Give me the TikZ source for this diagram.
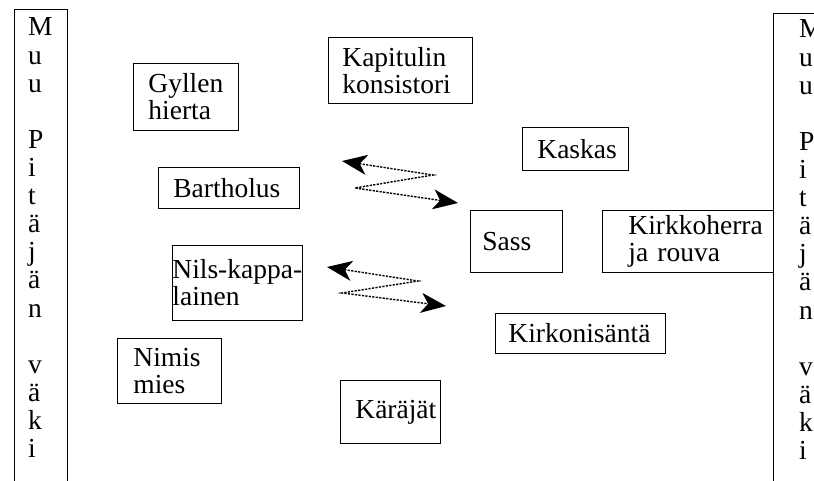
\documentclass[tikz,border=0pt]{standalone}
\usepackage{fontspec}
\setmainfont{Liberation Serif}
\usetikzlibrary{arrows.meta}
\hyphenpenalty=10000
\exhyphenpenalty=10000
\newcommand{\bigfnt}{\fontsize{27.5}{27}\selectfont}
\begin{document}
\begin{tikzpicture}[x=1pt,y=-1pt,
  txt/.style={font=\bigfnt},
  box/.style={txt, draw, line width=0.8pt, anchor=north west, inner ysep=0pt, align=left},
  bar/.style={draw, line width=0.8pt, anchor=north west, inner sep=0pt},
  col/.style={txt, anchor=base west, inner sep=0pt},
  zig/.style={line width=1.4pt, dash pattern=on 2.2pt off 1.3pt, {Stealth[length=25pt,width=20pt,inset=7pt]}-{Stealth[length=25pt,width=20pt,inset=7pt]}}
]
\useasboundingbox[fill=white] (0,0) rectangle (814,481);

% side bars
\node[bar, minimum width=53pt, minimum height=520pt] (leftbar) at (14,9) {};
\node[bar, minimum width=80pt, minimum height=520pt] (rightbar) at (773,13) {};
\foreach \ch [count=\i] in {M,u,u,{},P,i,t,ä,j,ä,n,{},v,ä,k,i} {
  \node[col] (L\i) at (28,36+\i*28.1-28.1) {\ch};
  \node[col] (R\i) at (799,38+\i*28.1-28.1) {\ch};
}

% boxes
\node[box, minimum width=105pt, minimum height=67pt, inner xsep=15pt, text width=75pt] (gyl) at (133,63) {Gyllen\\hierta};
\node[box, minimum width=144pt, minimum height=66pt, inner xsep=14pt, text width=116pt] (kap) at (328,37) {Kapitulin\\konsistori};
\node[box, minimum width=106pt, minimum height=43pt, inner xsep=15pt, text width=76pt] (kas) at (522,127) {Kaskas};
\node[box, minimum width=141pt, minimum height=41pt, inner xsep=15pt, text width=111pt] (bart) at (158,167) {Bartholus};
\node[box, minimum width=92pt, minimum height=62pt, inner xsep=12pt, text width=68pt] (sass) at (470,210) {Sass};
\node[box, minimum width=171pt, minimum height=62pt, inner xsep=26pt, text width=119pt] (kirk) at (602,210) {Kirkkoherra\\ja rouva};
\node[box, minimum width=130pt, minimum height=75pt, inner xsep=0pt, text width=130pt] (nils) at (172,245) {Nils-kappa-\\lainen};
\node[box, minimum width=170pt, minimum height=40pt, inner xsep=13pt, text width=144pt] (kon) at (495,313) {Kirkonisäntä};
\node[box, minimum width=104pt, minimum height=65pt, inner xsep=16pt, text width=72pt] (nim) at (117,338) {Nimis\\mies};
\node[box, minimum width=100pt, minimum height=63pt, inner xsep=15pt, text width=70pt] (kar) at (340,380) {Käräjät};

% zigzag arrows
\coordinate (a1s) at (342,161);
\coordinate (a1m) at (433,175);
\coordinate (a1n) at (355,188);
\coordinate (a1e) at (458,203);
\draw[zig] (a1s) -- (a1m) -- (a1n) -- (a1e);

\coordinate (a2s) at (327,267);
\coordinate (a2m) at (418,281);
\coordinate (a2n) at (342,293);
\coordinate (a2e) at (446,306);
\draw[zig] (a2s) -- (a2m) -- (a2n) -- (a2e);
\end{tikzpicture}
\end{document}
